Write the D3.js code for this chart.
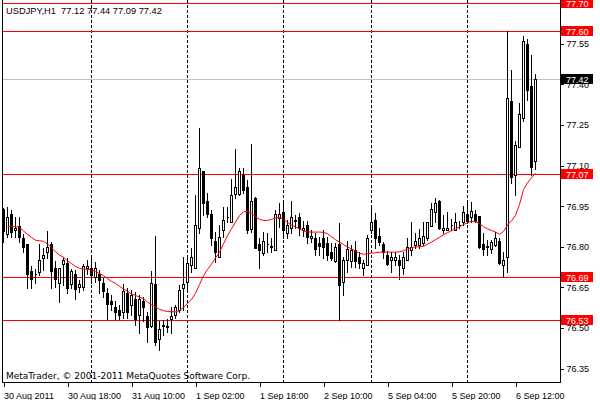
<!DOCTYPE html>
<html><head><meta charset="utf-8">
<script src="https://cdn.jsdelivr.net/npm/d3@7"></script>
<style>
html,body{margin:0;padding:0;background:#fff;}
svg{display:block;}
text{font-family:"Liberation Sans",Arial,sans-serif;font-size:9px;white-space:pre;}
</style>
</head><body>
<svg id="chart" width="600" height="400"></svg>
<script>
// ---------- DATA ----------
const symbolTitle = "USDJPY,H1";
const lastQuote = ["77.12", "77.44", "77.09", "77.42"];
const opens = [
76.941,76.849,76.922,76.862,76.880,76.835,76.812,76.711,76.701,76.710,
76.761,76.781,76.812,76.722,76.670,76.740,76.742,76.663,76.700,76.652,
76.652,76.722,76.722,76.691,76.700,76.670,76.633,76.601,76.580,76.568,
76.562,76.633,76.586,76.611,76.552,76.601,76.547,76.510,76.663,76.463,
76.510,76.506,76.535,76.549,76.568,76.651,76.671,76.735,76.725,76.870,
77.080,76.971,76.922,76.823,76.763,76.863,76.910,76.892,76.998,76.998,
77.067,77.023,76.868,76.981,76.812,76.780,76.811,76.801,76.790,76.907,
76.932,76.852,76.870,76.897,76.910,76.864,76.882,76.833,76.833,76.817,
76.833,76.815,76.781,76.749,76.811,76.671,76.752,76.751,76.790,76.765,
76.722,76.735,76.864,76.901,76.842,76.811,76.772,76.752,76.752,76.752,
76.723,76.753,76.790,76.809,76.809,76.815,76.834,76.880,76.932,76.972,
76.862,76.862,76.882,76.864,76.882,76.893,76.923,76.910,76.923,76.914,
76.811,76.802,76.794,76.809,76.824,76.735,76.763,77.341,77.068,77.169,
77.277,77.551,77.394,77.12];
const highs = [
76.944,76.950,76.938,76.913,76.913,76.848,76.814,76.732,76.720,76.811,
76.796,76.860,76.821,76.749,76.724,76.765,76.759,76.720,76.716,76.679,
76.740,76.752,76.771,76.744,76.716,76.685,76.648,76.623,76.601,76.586,
76.663,76.648,76.642,76.636,76.623,76.617,76.562,76.712,76.843,76.527,
76.531,76.537,76.580,76.586,76.660,76.765,76.765,76.799,76.993,77.240,
77.082,77.000,76.938,76.858,76.882,76.950,76.950,77.052,77.163,77.094,
77.092,77.048,77.181,76.985,76.833,76.858,76.852,76.833,76.938,76.963,
76.971,76.901,76.971,76.919,76.926,76.897,76.897,76.864,76.852,76.839,
76.864,76.839,76.815,76.815,76.889,76.765,76.823,76.809,76.823,76.784,
76.753,76.846,76.951,76.926,76.870,76.821,76.787,76.784,76.781,76.772,
76.784,76.834,76.893,76.852,76.868,76.893,76.895,76.963,76.981,76.975,
76.920,76.932,76.905,76.925,76.898,76.951,76.975,76.969,76.938,76.916,
76.852,76.827,76.827,76.858,76.834,76.784,77.600,77.453,77.191,77.332,
77.579,77.570,77.511,77.44];
const lows = [
76.821,76.839,76.839,76.837,76.821,76.784,76.650,76.648,76.670,76.697,
76.716,76.759,76.650,76.654,76.599,76.660,76.630,76.650,76.611,76.636,
76.642,76.700,76.670,76.673,76.633,76.617,76.535,76.568,76.535,76.535,
76.540,76.540,76.549,76.513,76.482,76.527,76.451,76.506,76.439,76.420,
76.476,76.488,76.482,76.540,76.562,76.568,76.636,76.710,76.725,76.852,
76.919,76.913,76.809,76.747,76.763,76.839,76.892,76.892,76.981,76.993,
77.000,76.852,76.858,76.799,76.722,76.772,76.781,76.781,76.790,76.876,
76.833,76.833,76.852,76.870,76.846,76.843,76.815,76.821,76.772,76.772,
76.759,76.753,76.753,76.747,76.531,76.624,76.710,76.728,76.728,76.722,
76.698,76.733,76.852,76.799,76.809,76.760,76.735,76.710,76.735,76.683,
76.700,76.753,76.772,76.797,76.799,76.809,76.827,76.877,76.895,76.868,
76.852,76.862,76.864,76.862,76.870,76.883,76.889,76.895,76.895,76.797,
76.772,76.772,76.778,76.806,76.737,76.692,76.710,77.037,76.994,77.169,
77.265,77.345,77.068,77.09];
const closes = [
76.860,76.910,76.855,76.870,76.839,76.800,76.700,76.683,76.700,76.752,
76.770,76.800,76.712,76.683,76.722,76.752,76.650,76.711,76.646,76.663,
76.732,76.732,76.697,76.722,76.681,76.639,76.590,76.590,76.562,76.550,
76.639,76.562,76.623,76.537,76.611,76.580,76.506,76.670,76.451,76.500,
76.514,76.508,76.547,76.580,76.642,76.664,76.741,76.763,76.882,77.092,
76.963,76.922,76.833,76.781,76.839,76.900,76.912,76.993,77.022,77.082,
77.012,76.862,76.971,76.799,76.790,76.823,76.813,76.804,76.922,76.922,
76.862,76.882,76.910,76.900,76.870,76.870,76.839,76.842,76.794,76.805,
76.802,76.772,76.762,76.802,76.661,76.753,76.793,76.790,76.751,76.741,
76.741,76.834,76.893,76.834,76.821,76.782,76.740,76.766,76.763,76.733,
76.763,76.800,76.801,76.824,76.834,76.842,76.893,76.941,76.963,76.871,
76.871,76.871,76.884,76.893,76.884,76.932,76.898,76.935,76.898,76.800,
76.793,76.804,76.821,76.836,76.741,76.753,77.351,77.061,77.178,77.292,
77.563,77.382,77.098,77.42];
const maValues = [
null,76.878,76.878,76.878,76.876,76.862,76.850,76.838,76.828,76.826,
76.824,76.814,76.800,76.785,76.773,76.765,76.752,76.742,76.731,76.725,
76.722,76.721,76.718,76.713,76.705,76.697,76.686,76.676,76.669,76.658,
76.648,76.640,76.630,76.624,76.618,76.613,76.600,76.590,76.581,76.573,
76.568,76.565,76.564,76.564,76.568,76.580,76.595,76.610,76.632,76.665,
76.697,76.720,76.740,76.762,76.784,76.815,76.845,76.870,76.895,76.919,
76.933,76.934,76.928,76.915,76.905,76.901,76.901,76.905,76.910,76.913,
76.905,76.893,76.884,76.877,76.870,76.862,76.859,76.858,76.858,76.858,
76.857,76.852,76.841,76.830,76.821,76.812,76.803,76.796,76.788,76.780,
76.776,76.778,76.780,76.782,76.784,76.784,76.784,76.784,76.784,76.785,
76.789,76.795,76.801,76.803,76.804,76.806,76.813,76.821,76.830,76.839,
76.848,76.856,76.863,76.870,76.877,76.886,76.892,76.898,76.897,76.890,
76.878,76.870,76.864,76.858,76.850,76.860,76.884,76.900,76.920,76.960,
77.015,77.040,77.058,77.075];
const timeTickIndex = [0, 16, 32, 48, 64, 80, 96, 112, 128];
const timeTickLabels = ["30 Aug 2011", "30 Aug 18:00", "31 Aug 10:00", "1 Sep 02:00",
  "1 Sep 18:00", "2 Sep 10:00", "5 Sep 04:00", "5 Sep 20:00", "6 Sep 12:00"];
const daySeparatorIndex = [22, 46, 70, 92, 116];
const priceTicks = [77.55, 77.40, 77.25, 77.10, 76.95, 76.80, 76.65, 76.50, 76.35];
const levelLines = [77.70, 77.60, 77.07, 76.69, 76.53];
const bidPrice = 77.42;
const copyrightText = "MetaTrader, © 2001-2011 MetaQuotes Software Corp.";

// ---------- LAYOUT ----------
const plotLeft = 2, plotRight = 560, plotTop = 0, plotBottom = 382;
const svg = d3.select("#chart");
const n = closes.length;
const x = d3.scaleLinear().domain([0, n - 1]).range([3.5, 3.5 + 4 * (n - 1)]);
const y = d3.scaleLinear().domain([76.3048, 77.7144]).range([plotBottom, plotTop]);
const py = v => Math.floor(v) + 0.5;

svg.append("rect").attr("width", 600).attr("height", 400).attr("fill", "#fff");

// day separators
svg.append("g").selectAll("line").data(daySeparatorIndex).join("line")
  .attr("x1", d => Math.floor(x(d)) + 0.5).attr("x2", d => Math.floor(x(d)) + 0.5)
  .attr("y1", plotTop).attr("y2", plotBottom)
  .attr("stroke", "#000").attr("stroke-width", 1).attr("stroke-dasharray", "3,2")
  .attr("shape-rendering", "crispEdges");

// level lines
svg.append("g").selectAll("line").data(levelLines).join("line")
  .attr("x1", plotLeft).attr("x2", plotRight)
  .attr("y1", d => py(y(d))).attr("y2", d => py(y(d)))
  .attr("stroke", "#ff0000").attr("stroke-width", 1).attr("shape-rendering", "crispEdges");

// bid line
svg.append("line").attr("x1", plotLeft).attr("x2", plotRight)
  .attr("y1", py(y(bidPrice))).attr("y2", py(y(bidPrice)))
  .attr("stroke", "#c0c0c0").attr("stroke-width", 1).attr("shape-rendering", "crispEdges");

// candles
const idx = d3.range(n);
const cg = svg.append("g").attr("shape-rendering", "crispEdges");
cg.selectAll("line.wick").data(idx).join("line").attr("class", "wick")
  .attr("x1", i => x(i)).attr("x2", i => x(i))
  .attr("y1", i => py(y(highs[i])) - 0.5).attr("y2", i => py(y(lows[i])) + 0.5)
  .attr("stroke", "#000").attr("stroke-width", 1);
cg.selectAll("path.body").data(idx).join("path").attr("class", "body")
  .attr("d", i => {
    const t = py(y(Math.max(opens[i], closes[i])));
    const b = py(y(Math.min(opens[i], closes[i])));
    const l = x(i) - 1, r = x(i) + 1;
    return `M${l},${t}H${r}V${b}H${l}Z`;
  })
  .attr("fill", i => closes[i] >= opens[i] ? "#fff" : "#000")
  .attr("stroke", "#000").attr("stroke-width", 1);

// moving average
const maLine = d3.line().defined(d => d != null).x((d, i) => x(i)).y(d => y(d));
svg.append("path").datum(maValues).attr("d", maLine)
  .attr("fill", "none").attr("stroke", "#ff0000").attr("stroke-width", 1);

// frame
svg.append("path").attr("d", `M${plotLeft + 0.5},${plotTop}V${plotBottom + 0.5}H${plotRight + 0.5}V${plotTop}`)
  .attr("fill", "none").attr("stroke", "#000").attr("stroke-width", 1).attr("shape-rendering", "crispEdges");

// price axis
const yAxis = d3.axisRight(y).tickValues(priceTicks).tickSize(3).tickPadding(3)
  .tickFormat(d3.format(".2f"));
const ya = svg.append("g").attr("transform", `translate(${plotRight + 0.5},-1)`).call(yAxis);
ya.select(".domain").remove();
ya.selectAll("line").attr("stroke", "#000").attr("shape-rendering", "crispEdges");
ya.selectAll("text").attr("fill", "#000").style("font-family", "Liberation Sans").style("font-size", "9px");

// time axis
const xAxis = d3.axisBottom(x).tickValues(timeTickIndex).tickSize(4)
  .tickFormat((d, i) => timeTickLabels[i]);
const xa = svg.append("g").attr("transform", `translate(0,${plotBottom + 0.5})`).call(xAxis);
xa.select(".domain").remove();
xa.selectAll("line").attr("stroke", "#000").attr("shape-rendering", "crispEdges");
xa.selectAll("text").attr("fill", "#000").attr("text-anchor", "start").attr("x", 0)
  .attr("y", 16).attr("dy", 0).style("font-family", "Liberation Sans").style("font-size", "9px");

// price labels on axis
const labelData = levelLines.map(p => ({p, bg: "#ff0000"})).concat([{p: bidPrice, bg: "#000"}]);
const lg = svg.append("g");
lg.selectAll("rect").data(labelData).join("rect")
  .attr("x", plotRight + 1).attr("y", d => Math.floor(y(d.p)) - 5).attr("width", 32).attr("height", 10)
  .attr("fill", d => d.bg);
lg.selectAll("text").data(labelData).join("text")
  .attr("x", plotRight + 6).attr("y", d => Math.floor(y(d.p)) + 3.5)
  .attr("fill", "#fff").text(d => d3.format(".2f")(d.p));

// header and copyright
svg.append("text").attr("x", 6).attr("y", 14).attr("fill", "#000")
  .style("font-size", "9.3px")
  .text(symbolTitle + "  " + lastQuote.join(" "));
svg.append("text").attr("x", 6).attr("y", 378.5).attr("fill", "#000")
  .style("font-family", "DejaVu Sans").style("font-size", "9px").text(copyrightText);
</script>
</body></html>
